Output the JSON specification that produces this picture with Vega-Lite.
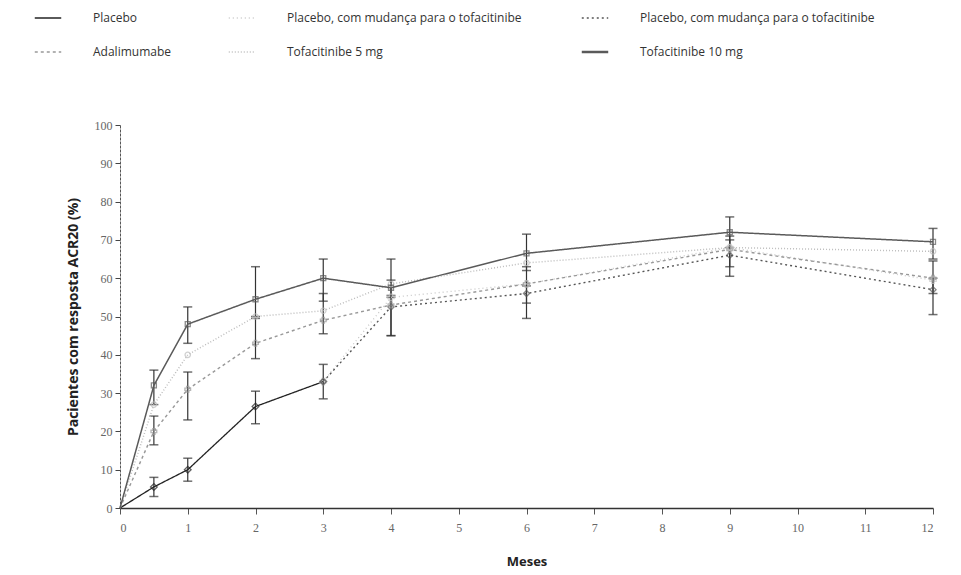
{
  "$schema": "https://vega.github.io/schema/vega-lite/v6.json",
  "width": 813,
  "height": 383,
  "autosize": {"type": "none"},
  "padding": {"left": 120, "top": 125, "right": 28, "bottom": 67},
  "background": "white",
  "config": {
    "view": {"stroke": null},
    "font": "Open Sans"
  },
  "data": {
    "values": [
      {"s": "P", "m": 0, "v": 0},
      {"s": "P", "m": 0.5, "v": 5.5, "lo": 3, "hi": 8},
      {"s": "P", "m": 1, "v": 10, "lo": 7, "hi": 13},
      {"s": "P", "m": 2, "v": 26.5, "lo": 22, "hi": 30.5},
      {"s": "P", "m": 3, "v": 33, "lo": 28.5, "hi": 37.5},
      {"s": "PT5", "m": 3, "v": 33},
      {"s": "PT5", "m": 4, "v": 55},
      {"s": "PT5", "m": 6, "v": 58.5},
      {"s": "PT5", "m": 9, "v": 68},
      {"s": "PT5", "m": 12, "v": 59.5},
      {"s": "PT10", "m": 3, "v": 33},
      {"s": "PT10", "m": 4, "v": 52.5, "lo": 45, "hi": 55.5},
      {"s": "PT10", "m": 6, "v": 56, "lo": 49.5, "hi": 58},
      {"s": "PT10", "m": 9, "v": 66, "lo": 60.5, "hi": 70},
      {"s": "PT10", "m": 12, "v": 57, "lo": 50.5, "hi": 60},
      {"s": "A", "m": 0, "v": 0},
      {"s": "A", "m": 0.5, "v": 20, "lo": 16.5, "hi": 24},
      {"s": "A", "m": 1, "v": 31, "lo": 23, "hi": 35.5},
      {"s": "A", "m": 2, "v": 43, "lo": 39, "hi": 49.5},
      {"s": "A", "m": 3, "v": 49, "lo": 45.5, "hi": 56},
      {"s": "A", "m": 4, "v": 53, "lo": 45, "hi": 59.5},
      {"s": "A", "m": 6, "v": 58.5, "lo": 53.5, "hi": 63},
      {"s": "A", "m": 9, "v": 67.5, "lo": 63, "hi": 71},
      {"s": "A", "m": 12, "v": 60, "lo": 56, "hi": 64.5},
      {"s": "T5", "m": 0, "v": 0},
      {"s": "T5", "m": 0.5, "v": 27},
      {"s": "T5", "m": 1, "v": 40},
      {"s": "T5", "m": 2, "v": 50},
      {"s": "T5", "m": 3, "v": 51.5},
      {"s": "T5", "m": 4, "v": 58.5},
      {"s": "T5", "m": 6, "v": 64},
      {"s": "T5", "m": 9, "v": 68},
      {"s": "T5", "m": 12, "v": 67},
      {"s": "T10", "m": 0, "v": 0},
      {"s": "T10", "m": 0.5, "v": 32, "lo": 27, "hi": 36},
      {"s": "T10", "m": 1, "v": 48, "lo": 43, "hi": 52.5},
      {"s": "T10", "m": 2, "v": 54.5, "lo": 50, "hi": 63},
      {"s": "T10", "m": 3, "v": 60, "lo": 54, "hi": 65},
      {"s": "T10", "m": 4, "v": 57.5, "lo": 55, "hi": 65},
      {"s": "T10", "m": 6, "v": 66.5, "lo": 62, "hi": 71.5},
      {"s": "T10", "m": 9, "v": 72, "lo": 68, "hi": 76},
      {"s": "T10", "m": 12, "v": 69.5, "lo": 65, "hi": 73}
    ]
  },
  "resolve": {"scale": {"color": "independent", "shape": "independent", "size": "independent"}},
  "layer": [
    {
      "transform": [{"filter": "isValid(datum.lo)"}],
      "mark": {"type": "errorbar", "ticks": {"size": 9, "thickness": 1.5}, "thickness": 1.2, "color": "#333"},
      "encoding": {
        "x": {"field": "m", "type": "quantitative", "title": "Meses", "scale": {"domain": [0, 12], "nice": false},
          "axis": {
            "values": [0,1,2,3,4,5,6,7,8,9,10,11,12], "format": "d",
            "titleFont": "Open Sans", "titleFontSize": 13, "titleFontWeight": "bold", "titleColor": "#222",
            "titlePadding": 22,
            "labelFont": "Liberation Serif", "labelFontSize": 12, "labelColor": "#666", "labelPadding": 8,
            "domainColor": "#333", "domainWidth": 1.5,
            "tickColor": "#555", "tickSize": 6, "grid": false
          }},
        "y": {"field": "lo", "type": "quantitative", "title": "Pacientes com resposta ACR20 (%)", "scale": {"domain": [0, 100], "nice": false},
          "axis": {
            "values": [0,10,20,30,40,50,60,70,80,90,100], "format": "d",
            "titleFont": "Open Sans", "titleFontSize": 14, "titleFontWeight": "bold", "titleColor": "#222",
            "titlePadding": 14,
            "labelFont": "Liberation Serif", "labelFontSize": 12, "labelColor": "#666", "labelPadding": 3,
            "domainColor": "#555", "domainDash": [3, 1], "domainWidth": 1,
            "tickColor": "#444", "tickSize": 5, "grid": false
          }},
        "y2": {"field": "hi"}
      }
    },
    {
      "mark": {"type": "line"},
      "encoding": {
        "x": {"field": "m", "type": "quantitative", "title": "Meses", "scale": {"domain": [0, 12], "nice": false},
          "axis": {
            "values": [0,1,2,3,4,5,6,7,8,9,10,11,12], "format": "d",
            "titleFont": "Open Sans", "titleFontSize": 13, "titleFontWeight": "bold", "titleColor": "#222",
            "titlePadding": 22,
            "labelFont": "Liberation Serif", "labelFontSize": 12, "labelColor": "#666", "labelPadding": 8,
            "domainColor": "#333", "domainWidth": 1.5,
            "tickColor": "#555", "tickSize": 6, "grid": false
          }},
        "y": {"field": "v", "type": "quantitative", "title": "Pacientes com resposta ACR20 (%)", "scale": {"domain": [0, 100], "nice": false},
          "axis": {
            "values": [0,10,20,30,40,50,60,70,80,90,100], "format": "d",
            "titleFont": "Open Sans", "titleFontSize": 14, "titleFontWeight": "bold", "titleColor": "#222",
            "titlePadding": 14,
            "labelFont": "Liberation Serif", "labelFontSize": 12, "labelColor": "#666", "labelPadding": 3,
            "domainColor": "#555", "domainDash": [3, 1], "domainWidth": 1,
            "tickColor": "#444", "tickSize": 5, "grid": false
          }},
        "detail": {"field": "s"},
        "color": {
          "field": "s", "type": "nominal",
          "scale": {
            "domain": ["P", "PT5", "PT10", "A", "T5", "T10"],
            "range": ["#222222", "#c8c8c8", "#555555", "#999999", "#bdbdbd", "#5a5a5a"]
          },
          "legend": {
            "orient": "none", "legendX": -78, "legendY": -113,
            "direction": "horizontal", "columns": 3,
            "title": null,
            "symbolType": "stroke", "symbolSize": 700, "symbolStrokeWidth": 1.6,
            "labelFont": "Open Sans", "labelFontSize": 12, "labelColor": "#333",
            "labelOffset": 39, "labelLimit": 320,
            "columnPadding": 54, "rowPadding": 22,
            "labelExpr": "datum.value == 'P' ? 'Placebo' : (datum.value == 'PT5' || datum.value == 'PT10') ? 'Placebo, com mudança para o tofacitinibe' : datum.value == 'A' ? 'Adalimumabe' : datum.value == 'T5' ? 'Tofacitinibe 5 mg' : 'Tofacitinibe 10 mg'",
            "encode": {
              "symbols": {
                "update": {
                  "strokeDash": {"signal": "datum.value == 'PT5' ? [1,3] : datum.value == 'PT10' ? [2,3] : datum.value == 'A' ? [3,3] : datum.value == 'T5' ? [1,2] : [1,0]"},
                  "strokeWidth": {"signal": "datum.value == 'T10' ? 2.6 : 1.5"}
                }
              }
            }
          }
        },
        "strokeDash": {
          "field": "s", "type": "nominal",
          "scale": {
            "domain": ["P", "PT5", "PT10", "A", "T5", "T10"],
            "range": [[1, 0], [1, 3], [2, 3], [3, 3], [1, 2], [1, 0]]
          },
          "legend": null
        },
        "strokeWidth": {
          "field": "s", "type": "nominal",
          "scale": {
            "domain": ["P", "PT5", "PT10", "A", "T5", "T10"],
            "range": [1.3, 1.5, 1.5, 1.5, 1.8, 2.4]
          },
          "legend": null
        }
      }
    },
    {
      "transform": [{"filter": "datum.m > 0"}],
      "mark": {"type": "point", "filled": false, "strokeWidth": 1.3},
      "encoding": {
        "x": {"field": "m", "type": "quantitative", "title": "Meses", "scale": {"domain": [0, 12], "nice": false},
          "axis": {
            "values": [0,1,2,3,4,5,6,7,8,9,10,11,12], "format": "d",
            "titleFont": "Open Sans", "titleFontSize": 13, "titleFontWeight": "bold", "titleColor": "#222",
            "titlePadding": 22,
            "labelFont": "Liberation Serif", "labelFontSize": 12, "labelColor": "#666", "labelPadding": 8,
            "domainColor": "#333", "domainWidth": 1.5,
            "tickColor": "#555", "tickSize": 6, "grid": false
          }},
        "y": {"field": "v", "type": "quantitative", "title": "Pacientes com resposta ACR20 (%)", "scale": {"domain": [0, 100], "nice": false},
          "axis": {
            "values": [0,10,20,30,40,50,60,70,80,90,100], "format": "d",
            "titleFont": "Open Sans", "titleFontSize": 14, "titleFontWeight": "bold", "titleColor": "#222",
            "titlePadding": 14,
            "labelFont": "Liberation Serif", "labelFontSize": 12, "labelColor": "#666", "labelPadding": 3,
            "domainColor": "#555", "domainDash": [3, 1], "domainWidth": 1,
            "tickColor": "#444", "tickSize": 5, "grid": false
          }},
        "color": {
          "field": "s", "type": "nominal",
          "scale": {
            "domain": ["P", "PT5", "PT10", "A", "T5", "T10"],
            "range": ["#222222", "#c8c8c8", "#555555", "#999999", "#bdbdbd", "#5a5a5a"]
          },
          "legend": null
        },
        "shape": {
          "field": "s", "type": "nominal",
          "scale": {
            "domain": ["P", "PT5", "PT10", "A", "T5", "T10"],
            "range": ["diamond", "cross", "diamond", "cross", "circle", "square"]
          },
          "legend": null
        },
        "size": {
          "field": "s", "type": "nominal",
          "scale": {
            "domain": ["P", "PT5", "PT10", "A", "T5", "T10"],
            "range": [45, 25, 40, 25, 0, 90]
          },
          "legend": null
        }
      }
    }
  ]
}
